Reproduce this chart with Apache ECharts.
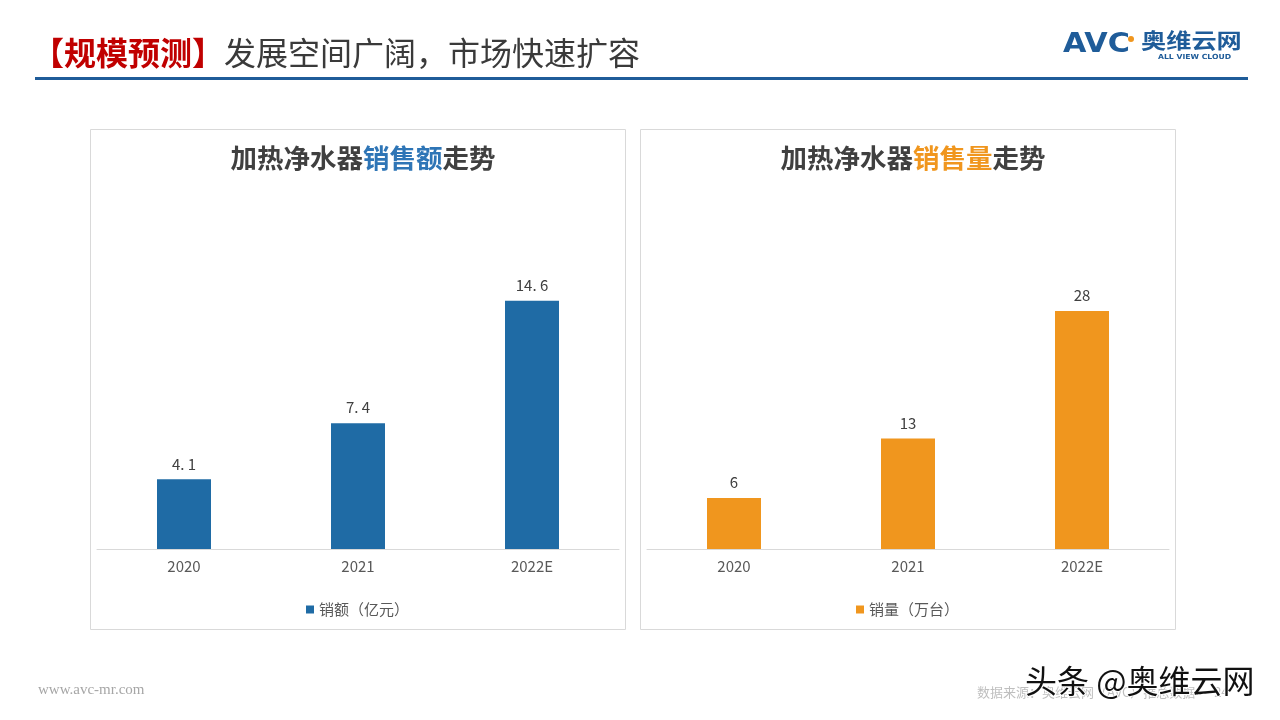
<!DOCTYPE html>
<html>
<head>
<meta charset="utf-8">
<script src="https://cdn.jsdelivr.net/npm/echarts@6/dist/echarts.min.js"></script>
<style>
html,body{margin:0;padding:0;background:#fff;}
#main{width:1280px;height:720px;}
</style>
</head>
<body>
<div id="main"></div>
<script>
const categories = ['2020', '2021', '2022E'];
const salesValue = [4.1, 7.4, 14.6];   // 销额（亿元）
const salesVolume = [6, 13, 28];       // 销量（万台）
const seriesNames = ['销额（亿元）', '销量（万台）'];

const CJK = '"Noto Sans CJK SC", "Noto Sans", sans-serif';
const chart = echarts.init(document.getElementById('main'));

function catAxis(idx) {
  return {
    type: 'category', gridIndex: idx, data: categories,
    axisLine: { lineStyle: { color: '#d9d9d9', width: 1 } },
    axisTick: { show: false },
    axisLabel: { color: '#595959', fontSize: 15, fontFamily: CJK, margin: 10 }
  };
}
function valAxis(idx, max) {
  return {
    type: 'value', gridIndex: idx, min: 0, max: max,
    show: false, splitLine: { show: false }
  };
}
function barLabel(spaced) {
  return {
    show: true, position: 'top', distance: 8, color: '#404040', fontSize: 15,
    fontFamily: CJK,
    formatter: p => spaced ? String(p.value).replace('.', '. ') : String(p.value)
  };
}
const legendText = { color: '#595959', fontSize: 15, fontFamily: CJK };

chart.setOption({
  animation: false,
  title: [
    {
      text: '{a|【规模预测】}{b|发展空间广阔，市场快速扩容}',
      left: 27, top: 32,
      textStyle: { rich: {
        a: { color: '#C00000', fontSize: 32, fontWeight: 'bold', fontFamily: CJK },
        b: { color: '#3a3a3a', fontSize: 32, fontWeight: 'normal', fontFamily: CJK }
      } }
    },
    {
      text: '{a|加热净水器}{b|销售额}{a|走势}',
      left: 358, top: 140, textAlign: 'center',
      textStyle: { rich: {
        a: { color: '#404040', fontSize: 26.5, fontWeight: 'bold', fontFamily: CJK },
        b: { color: '#2E75B6', fontSize: 26.5, fontWeight: 'bold', fontFamily: CJK }
      } }
    },
    {
      text: '{a|加热净水器}{b|销售量}{a|走势}',
      left: 908, top: 140, textAlign: 'center',
      textStyle: { rich: {
        a: { color: '#404040', fontSize: 26.5, fontWeight: 'bold', fontFamily: CJK },
        b: { color: '#F0961E', fontSize: 26.5, fontWeight: 'bold', fontFamily: CJK }
      } }
    }
  ],
  legend: [
    {
      data: [seriesNames[0]], left: 301, top: 597,
      icon: 'rect', itemWidth: 8, itemHeight: 8, itemGap: 4,
      textStyle: legendText
    },
    {
      data: [seriesNames[1]], left: 851, top: 597,
      icon: 'rect', itemWidth: 8, itemHeight: 8, itemGap: 4,
      textStyle: legendText
    }
  ],
  grid: [
    { left: 97, top: 209, width: 522, height: 340 },
    { left: 647, top: 209, width: 522, height: 340 }
  ],
  xAxis: [catAxis(0), catAxis(1)],
  yAxis: [valAxis(0, 20), valAxis(1, 40)],
  series: [
    {
      name: seriesNames[0], type: 'bar', xAxisIndex: 0, yAxisIndex: 0,
      data: salesValue, barWidth: 54,
      itemStyle: { color: '#1F6BA5' }, label: barLabel(true)
    },
    {
      name: seriesNames[1], type: 'bar', xAxisIndex: 1, yAxisIndex: 1,
      data: salesVolume, barWidth: 54,
      itemStyle: { color: '#F0961E' }, label: barLabel(false)
    }
  ],
  graphic: [
    { type: 'rect', shape: { x: 35, y: 77, width: 1213, height: 3 }, style: { fill: '#1F5C99' } },
    { type: 'rect', shape: { x: 90.5, y: 129.5, width: 535, height: 500 }, style: { fill: 'none', stroke: '#d9d9d9', lineWidth: 1 } },
    { type: 'rect', shape: { x: 640.5, y: 129.5, width: 535, height: 500 }, style: { fill: 'none', stroke: '#d9d9d9', lineWidth: 1 } },
    // logo
    { type: 'text', x: 1063, y: 31, scaleX: 1.12, style: { text: 'AVC', fill: '#1F5C99', font: '900 27px "DejaVu Sans", sans-serif', verticalAlign: 'top' } },
    { type: 'circle', shape: { cx: 1131, cy: 39, r: 3 }, style: { fill: '#F0961E' } },
    { type: 'text', x: 1141, y: 30, scaleX: 1.2, style: { text: '奥维云网', fill: '#1F5C99', font: 'bold 21px "Noto Sans CJK SC", sans-serif', verticalAlign: 'top' } },
    { type: 'text', x: 1158, y: 54, scaleX: 1.1, style: { text: 'ALL VIEW CLOUD', fill: '#1F5C99', font: 'bold 7px "DejaVu Sans", sans-serif', verticalAlign: 'top' } },
    // footer
    { type: 'text', left: 38, top: 683, style: { text: 'www.avc-mr.com', fill: '#a6a6a6', font: '15px "Liberation Serif", serif' } },
    { type: 'text', left: 977, top: 686, style: { text: '数据来源：奥维云网（AVC）推总数据 · 24', fill: '#bfbfbf', font: '13px "Noto Sans CJK SC", sans-serif' } },
    { type: 'text', left: 1024, top: 664, style: { text: '头条 @奥维云网', fill: '#111', stroke: '#fff', lineWidth: 2, font: '32px "Noto Sans CJK SC", sans-serif' } }
  ]
});
</script>
</body>
</html>
